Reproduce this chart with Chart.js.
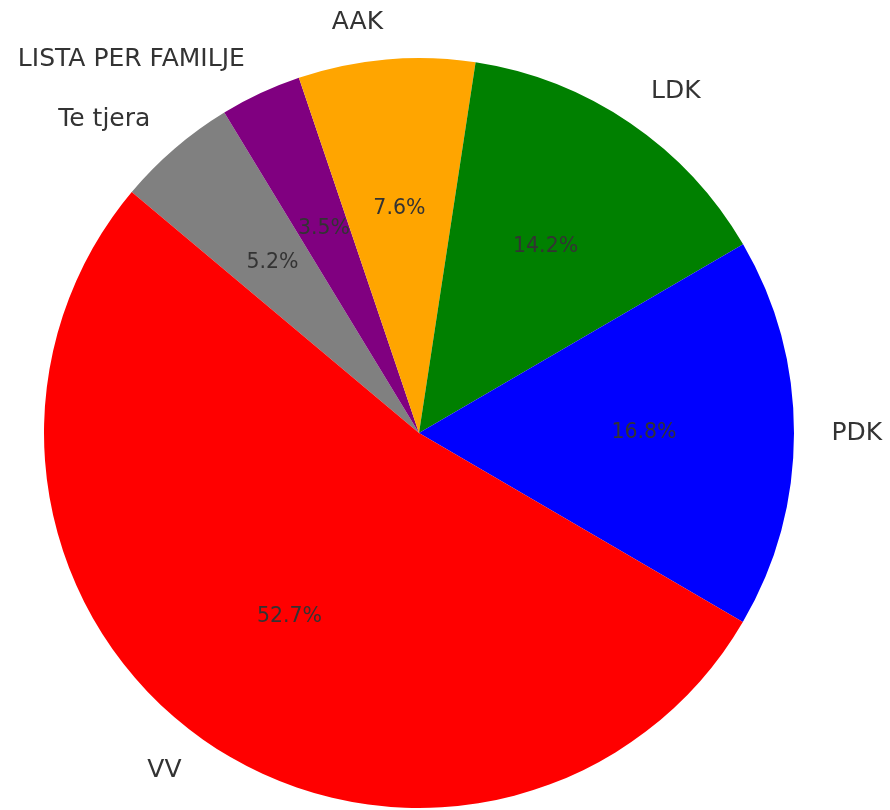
<!DOCTYPE html>
<html>
<head>
<meta charset="utf-8">
<script src="https://cdn.jsdelivr.net/npm/chart.js@4.4.1/dist/chart.umd.min.js"></script>
<style>
  html, body { margin: 0; padding: 0; background: #fff; }
  #wrap { width: 890px; height: 810px; }
</style>
</head>
<body>
<div id="wrap"><canvas id="pieChart" width="890" height="810"></canvas></div>
<script>
// party shares, counter-clockwise order as in the source figure
const parties = ['VV', 'PDK', 'LDK', 'AAK', 'LISTA PER FAMILJE', 'Te tjera'];
const shares = [52.7, 16.8, 14.2, 7.6, 3.5, 5.2];
const sliceColors = ['#ff0000', '#0000ff', '#008000', '#ffa500', '#800080', '#808080'];
const startAngle = 140; // degrees, counter-clockwise from east

// Chart.js draws clockwise, so flip the order
const labelsCw = parties.slice().reverse();
const valuesCw = shares.slice().reverse();
const colorsCw = sliceColors.slice().reverse();

const pieText = {
    id: 'pieText',
    afterDatasetsDraw(chart) {
        const ctx = chart.ctx;
        const meta = chart.getDatasetMeta(0);
        const data = chart.data.datasets[0].data;
        const total = data.reduce((a, b) => a + b, 0);
        ctx.save();
        meta.data.forEach((arc, i) => {
            const p = arc.getProps(['x', 'y', 'startAngle', 'endAngle', 'outerRadius'], true);
            const mid = (p.startAngle + p.endAngle) / 2;
            const cx = Math.cos(mid), cy = Math.sin(mid);
            // outer label
            ctx.font = '25px "DejaVu Sans"';
            ctx.fillStyle = '#333333';
            ctx.textBaseline = 'middle';
            ctx.textAlign = cx < 0 ? 'right' : 'left';
            ctx.fillText(chart.data.labels[i], p.x + cx * p.outerRadius * 1.1, p.y + cy * p.outerRadius * 1.1);
            // percentage
            ctx.font = '20.5px "DejaVu Sans"';
            ctx.textAlign = 'center';
            ctx.fillText((data[i] / total * 100).toFixed(1) + '%', p.x + cx * p.outerRadius * 0.6, p.y + cy * p.outerRadius * 0.6);
        });
        ctx.restore();
    }
};

new Chart(document.getElementById('pieChart'), {
    type: 'pie',
    data: {
        labels: labelsCw,
        datasets: [{ data: valuesCw, backgroundColor: colorsCw, borderWidth: 0 }]
    },
    options: {
        responsive: false,
        animation: false,
        events: [],
        rotation: 90 - startAngle,
        layout: { padding: { left: 44, right: 96, top: 58, bottom: 2 } },
        plugins: { legend: { display: false }, tooltip: { enabled: false } }
    },
    plugins: [pieText]
});
</script>
</body>
</html>
